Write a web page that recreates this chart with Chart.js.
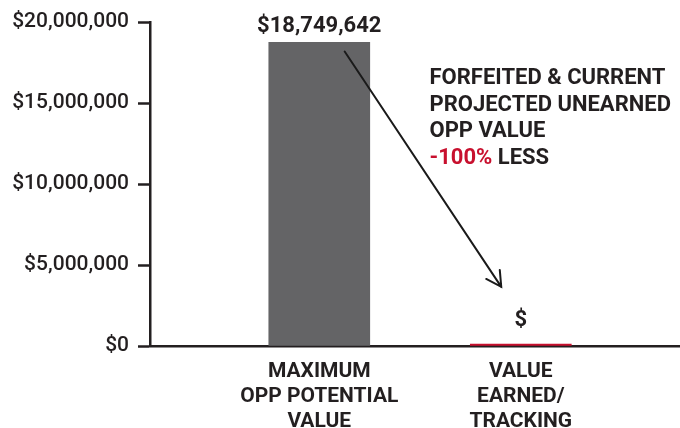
<!DOCTYPE html>
<html>
<head>
<meta charset="utf-8">
<script src="https://cdn.jsdelivr.net/npm/chart.js@4"></script>
<style>
  html, body { margin: 0; padding: 0; background: #fff; }
  #box { width: 680px; height: 428px; }
</style>
</head>
<body>
<div id="box"><canvas id="grafico"></canvas></div>
<script>
// dados
const categorias   = [['MAXIMUM', 'OPP POTENTIAL', 'VALUE'], ['VALUE', 'EARNED/', 'TRACKING']];
const valores      = [18749642, 0];
const rotulosValor = ['$18,749,642', '$'];
const coresBarras  = ['#646466', '#c8102e'];
const ticksY       = [0, 5000000, 10000000, 15000000, 20000000];
const notaLinhas   = ['FORFEITED & CURRENT', 'PROJECTED UNEARNED', 'OPP VALUE'];
const notaPct      = '-100%';
const notaFim      = ' LESS';

const TINTA = '#231f20';
const FONTE = 'Roboto, "Liberation Sans", sans-serif';

// rótulos em cima das barras + seta + texto de anotação
const extras = {
    id: 'extras',
    afterDatasetsDraw(chart) {
        const ctx = chart.ctx;
        const x = chart.scales.x, y = chart.scales.y;
        ctx.save();

        // valores sobre as barras
        ctx.font = 'bold 22px ' + FONTE;
        ctx.fillStyle = TINTA;
        ctx.textAlign = 'center';
        ctx.textBaseline = 'alphabetic';
        chart.getDatasetMeta(0).data.forEach((bar, i) => {
            const alto = y.getPixelForValue(0) - bar.y;
            ctx.fillText(rotulosValor[i], bar.x, bar.y - (alto < 5 ? 18 : 10));
        });

        // seta
        const x0 = x.getPixelForValue(0.126), y0 = y.getPixelForValue(18180000);
        const x1 = x.getPixelForValue(0.903), y1 = y.getPixelForValue(3650000);
        ctx.strokeStyle = '#1a1a1a';
        ctx.lineWidth = 2;
        ctx.lineCap = 'round';
        ctx.beginPath();
        ctx.moveTo(x0, y0);
        ctx.lineTo(x1, y1);
        const ang = Math.atan2(y1 - y0, x1 - x0);
        const ponta = 17, abre = 0.5;
        ctx.moveTo(x1 - ponta * Math.cos(ang - abre), y1 - ponta * Math.sin(ang - abre));
        ctx.lineTo(x1, y1);
        ctx.lineTo(x1 - ponta * Math.cos(ang + abre), y1 - ponta * Math.sin(ang + abre));
        ctx.stroke();

        // texto da anotação
        const tx = x.getPixelForValue(0.547);
        let ty = y.getPixelForValue(16500000);
        ctx.font = 'bold 22px ' + FONTE;
        ctx.textAlign = 'left';
        ctx.textBaseline = 'middle';
        notaLinhas.forEach(l => { ctx.fillStyle = TINTA; ctx.fillText(l, tx, ty); ty += 26.5; });
        ctx.fillStyle = '#c8102e';
        ctx.fillText(notaPct, tx, ty);
        const w = ctx.measureText(notaPct).width;
        ctx.fillStyle = TINTA;
        ctx.fillText(notaFim, tx + w, ty);

        ctx.restore();
    }
};

new Chart(document.getElementById('grafico').getContext('2d'), {
    type: 'bar',
    data: {
        datasets: [{
            data: valores.map((v, i) => ({ x: i, y: v })),
            backgroundColor: coresBarras,
            barThickness: 101,
            minBarLength: 2
        }]
    },
    options: {
        responsive: true,
        maintainAspectRatio: false,
        animation: false,
        layout: { padding: { top: 22, right: 0, bottom: 0, left: 0 } },
        plugins: { legend: { display: false }, tooltip: { enabled: false } },
        scales: {
            x: {
                type: 'linear',
                offset: false,
                min: -0.84,
                max: 1.79,
                afterBuildTicks: (s) => { s.ticks = categorias.map((c, i) => ({ value: i })); },
                afterFit: (s) => { s.height = 82; },
                grid: { display: false, drawTicks: false },
                border: { display: true, color: TINTA, width: 2.5 },
                ticks: {
                    autoSkip: false,
                    maxRotation: 0,
                    padding: 13,
                    color: TINTA,
                    font: { family: FONTE, size: 21, weight: 'bold', lineHeight: 1.2 },
                    callback: (v) => categorias[v]
                }
            },
            y: {
                min: 0,
                max: 20000000,
                afterBuildTicks: (s) => { s.ticks = ticksY.map(v => ({ value: v })); },
                afterFit: (s) => { s.width = 150; },
                grid: { drawOnChartArea: false, tickLength: 12, tickWidth: 2.5, tickColor: TINTA },
                border: { color: TINTA, width: 2.5 },
                ticks: {
                    padding: 9,
                    color: TINTA,
                    font: { family: FONTE, size: 21, weight: 500 },
                    callback: (v) => '$' + v.toLocaleString('en-US')
                }
            }
        }
    },
    plugins: [extras]
});
</script>
</body>
</html>
